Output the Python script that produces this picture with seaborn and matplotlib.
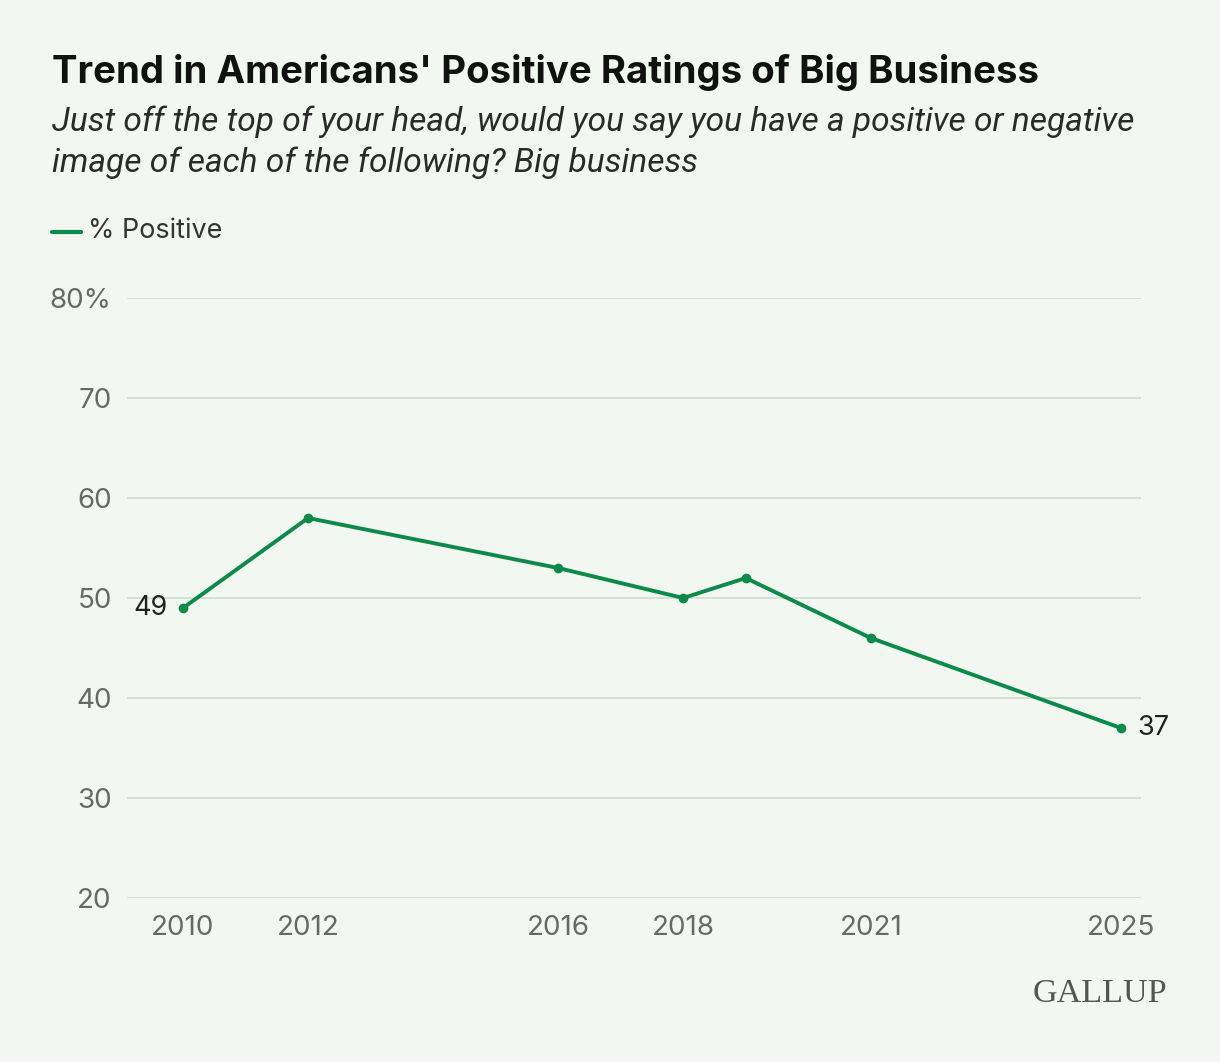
import matplotlib
matplotlib.use("Agg")
import matplotlib.pyplot as plt
import seaborn as sns
import pandas as pd

years = [2010, 2012, 2016, 2018, 2019, 2021, 2025]
positive = [49, 58, 53, 50, 52, 46, 37]
xtick_years = [2010, 2012, 2016, 2018, 2021, 2025]
ytick_vals = [20, 30, 40, 50, 60, 70, 80]
ytick_labels = ["20", "30", "40", "50", "60", "70", "80%"]

bg = "#f2f8f1"
green = "#0b8a4a"
grey = "#666a66"

sns.set_theme(style="white")
plt.rcParams["font.family"] = ["Inter", "DejaVu Sans"]

df = pd.DataFrame({"year": years, "positive": positive})

fig = plt.figure(figsize=(12.2, 10.62), dpi=100, facecolor=bg)
ax = fig.add_axes([0.1041, 0.1544, 0.8311, 0.565])
ax.set_facecolor(bg)

sns.lineplot(x="year", y="positive", data=df, color=green, linewidth=2.8,
             marker="o", markersize=7, markeredgewidth=0, ax=ax, zorder=3)

ax.set_xlim(2009.104, 2025.32)
ax.set_ylim(20, 80)
ax.set_yticks(ytick_vals)
ax.set_yticklabels(ytick_labels)
ax.set_xticks(xtick_years)
ax.set_xticklabels([str(y) for y in xtick_years])
ax.tick_params(axis="both", length=0, labelsize=20, labelcolor=grey)
ax.tick_params(axis="y", pad=11)
ax.tick_params(axis="x", pad=12)
ax.grid(axis="y", color="#d8ddd7", linewidth=1.3)
ax.grid(axis="x", visible=False)
for s in ax.spines.values():
    s.set_visible(False)
ax.set_xlabel("")
ax.set_ylabel("")

# end labels
ax.annotate(str(positive[0]), (years[0], positive[0]), xytext=(-11, 0),
            textcoords="offset points", ha="right", va="center",
            fontsize=19.5, color="#222222")
ax.annotate(str(positive[-1]), (years[-1], positive[-1]), xytext=(12, 0),
            textcoords="offset points", ha="left", va="center",
            fontsize=19.5, color="#222222")

# title block
fig.text(0.0426, 0.932, "Trend in Americans' Positive Ratings of Big Business",
         fontsize=27.6, fontweight="bold", color="#111111", va="center")
fig.text(0.0426, 0.885,
         "Just off the top of your head, would you say you have a positive or negative",
         fontsize=24.1, style="italic", color="#2a2a2a", va="center",
         family=["Roboto", "DejaVu Sans"])
fig.text(0.0426, 0.847, "image of each of the following? Big business",
         fontsize=24.1, style="italic", color="#2a2a2a", va="center",
         family=["Roboto", "DejaVu Sans"])

# legend
fig.lines.append(plt.Line2D([0.0426, 0.066], [0.7815, 0.7815], color=green,
                            linewidth=3, transform=fig.transFigure))
fig.text(0.072, 0.7825, "% Positive", fontsize=19.4, color="#333333", va="center")

# logo
fig.text(0.957, 0.064, "GALLUP", fontsize=24.5, color="#555555", ha="right",
         va="center", family=["Liberation Serif", "DejaVu Serif"])

fig.savefig("out.png", dpi=100, facecolor=bg)
